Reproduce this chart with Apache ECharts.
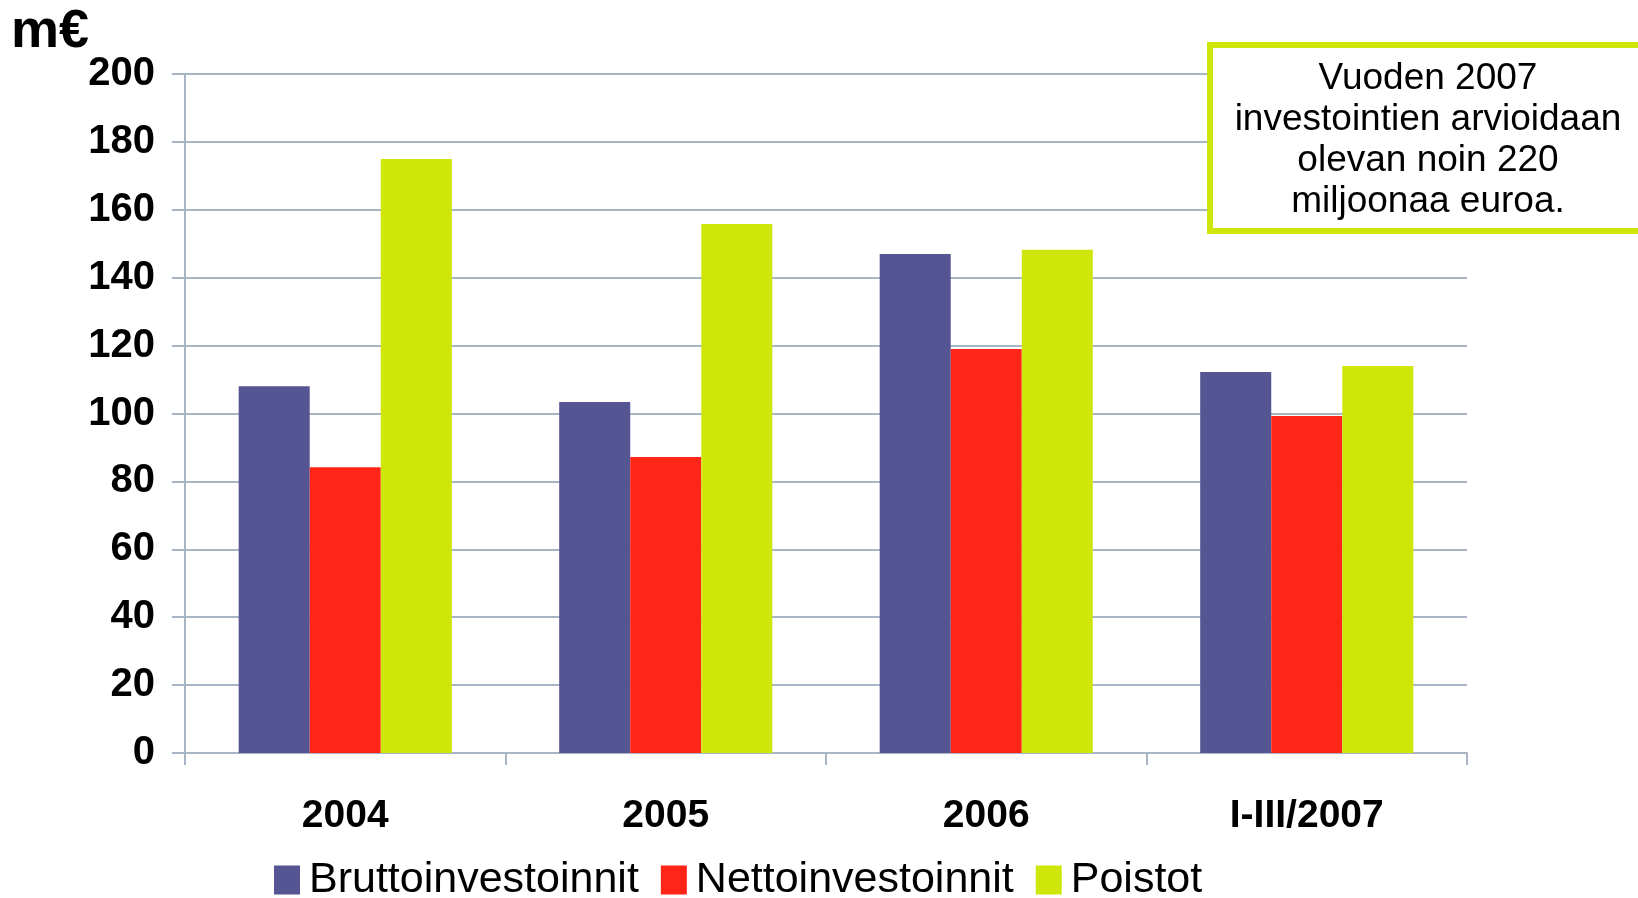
<!DOCTYPE html>
<html><head><meta charset="utf-8">
<script src="https://cdn.jsdelivr.net/npm/echarts@6/dist/echarts.min.js"></script>
<style>html,body{margin:0;padding:0;background:#fff}#c{width:1638px;height:898px}</style>
</head><body><div id="c"></div>
<script>
const categories = ['2004', '2005', '2006', 'I-III/2007'];
const brutto = [108, 103.4, 147, 112.2];
const netto = [84.2, 87.2, 119, 99.3];
const poistot = [175, 155.8, 148.2, 114];
const seriesNames = ['Bruttoinvestoinnit', 'Nettoinvestoinnit', 'Poistot'];
const yTicks = {min: 0, max: 200, interval: 20};
const unitLabel = 'm€';
const noteLines = ['Vuoden 2007', 'investointien arvioidaan', 'olevan noin 220', 'miljoonaa euroa.'];

const gridColor = '#a7b5c4';
const chart = echarts.init(document.getElementById('c'), null, {renderer: 'canvas'});
const font = 'Liberation Sans, Arial, sans-serif';
chart.setOption({
  animation: false,
  backgroundColor: '#fff',
  color: ['#555593', '#ff2618', '#cfe60a'],
  grid: {left: 185, right: 171, top: 74, bottom: 145},
  title: {text: unitLabel, left: 6, top: 0, textStyle: {fontFamily: font, fontWeight: 'bold', fontSize: 54, color: '#000'}},
  legend: {
    data: seriesNames, left: 269, top: 853, itemWidth: 26, itemHeight: 29, itemGap: 22,
    icon: 'rect',
    textStyle: {fontFamily: font, fontSize: 43, color: '#000', padding: [0, 0, 0, 4], lineHeight: 44}
  },
  xAxis: {
    type: 'category', data: categories,
    axisLine: {lineStyle: {color: gridColor, width: 2}},
    axisTick: {show: true, length: 12, lineStyle: {color: gridColor, width: 2}},
    axisLabel: {fontFamily: font, fontWeight: 'bold', fontSize: 39, color: '#000', margin: 44}
  },
  yAxis: {
    type: 'value', min: yTicks.min, max: yTicks.max, interval: yTicks.interval,
    axisLine: {show: true, lineStyle: {color: gridColor, width: 2}},
    axisTick: {show: true, length: 13, lineStyle: {color: gridColor, width: 2}},
    splitLine: {lineStyle: {color: gridColor, width: 2}},
    axisLabel: {fontFamily: font, fontWeight: 'bold', fontSize: 40, color: '#000', margin: 30}
  },
  series: [
    {name: seriesNames[0], type: 'bar', data: brutto, barGap: '0%', barCategoryGap: '33.5%'},
    {name: seriesNames[1], type: 'bar', data: netto, barGap: '0%', barCategoryGap: '33.5%'},
    {name: seriesNames[2], type: 'bar', data: poistot, barGap: '0%', barCategoryGap: '33.5%'}
  ],
  graphic: [
    {type: 'rect', z: 100, shape: {x: 1210, y: 45, width: 440, height: 186},
     style: {fill: '#fff', stroke: '#cfe60a', lineWidth: 6}},
    {type: 'text', z: 101, x: 1428, y: 140,
     style: {text: noteLines.join('\n'), fontFamily: font, fontSize: 37, lineHeight: 41,
             fill: '#000', align: 'center', verticalAlign: 'middle'}}
  ]
});
</script></body></html>
